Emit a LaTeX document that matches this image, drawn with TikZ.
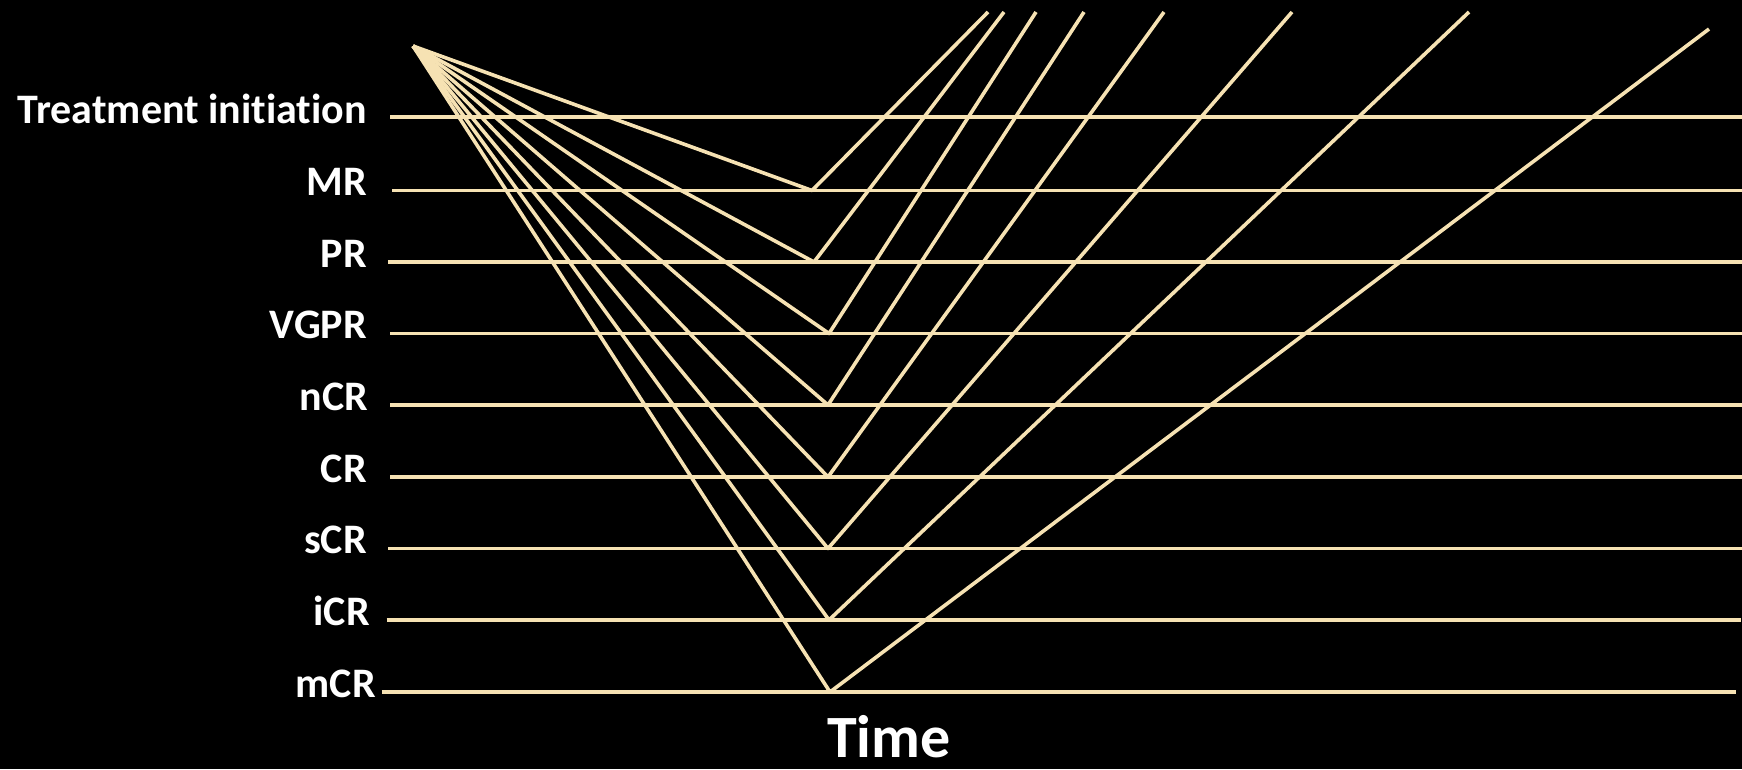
\documentclass[tikz,border=0pt]{standalone}
\usepackage{fontspec}
\setmainfont{Carlito}[RawFeature={-liga}]
\usepackage{tikz}
\definecolor{cream}{HTML}{F6E2B3}
\tikzset{
  lvl/.style={draw=cream,line width=3.2pt},
  resp/.style={draw=cream,line width=3.6pt,line join=round},
  lab/.style={anchor=base east,text=white,inner sep=0pt,font=\bfseries\fontsize{42}{50}\selectfont},
  axislab/.style={anchor=base,text=white,inner sep=0pt,text depth=0pt,font=\bfseries\fontsize{60}{70}\selectfont},
}

\begin{document}
\begin{tikzpicture}[x=1pt,y=-1pt]
  \fill[black] (0,0) rectangle (1742,769);
  \useasboundingbox (0,0) rectangle (1742,769);
  % start of treatment
  \coordinate (apex) at (413,46);
  \node[lab] (l-ti) at (367,123) {Treatment initiation};
  \coordinate (s-ti) at (390,117);
  \coordinate (e-ti) at (1742,117);
  \draw[lvl] (s-ti) -- (e-ti);
  % response levels
  \foreach \n/\txt/\y/\lx/\sx/\ex/\vx/\tx/\ty in {
      mr/MR/190.5/367/392/1742/812/988/12,
      pr/PR/262/367/388/1742/814/1004/12,
      vgpr/VGPR/333.5/367/390/1742/829/1036/12,
      ncr/nCR/405/368.5/390/1742/828/1084/12,
      cr/CR/477/367/390/1742/828/1164/12,
      scr/sCR/548.5/367/388/1742/828/1292/12,
      icr/iCR/620/370/386.5/1741/829/1469/12,
      mcr/mCR/692/376/381.5/1736/830/1709/29}{
    \node[lab] (l-\n) at (\lx,\y+5) {\txt};
    \coordinate (s-\n) at (\sx,\y);
    \coordinate (e-\n) at (\ex,\y);
    \coordinate (v-\n) at (\vx,\y);
    \coordinate (t-\n) at (\tx,\ty);
    \draw[lvl] (s-\n) -- (e-\n);
    \draw[resp] (apex) -- (v-\n) -- (t-\n);
  }
  % axis
  \node[axislab] (time) at (889,757) {Time};
\end{tikzpicture}
\end{document}
